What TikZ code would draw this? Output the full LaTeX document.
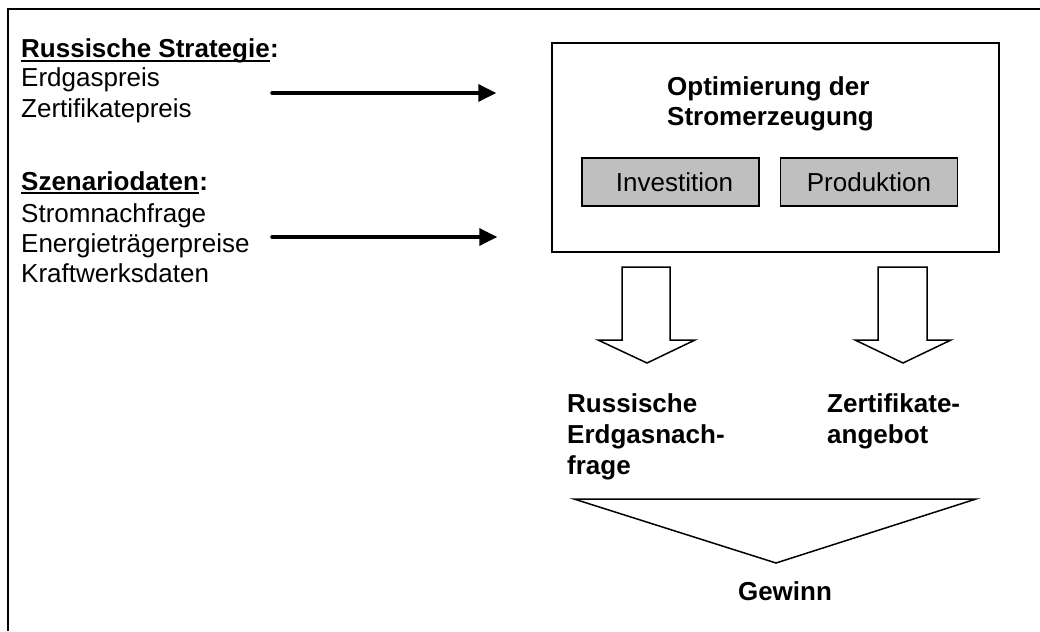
\documentclass[tikz,border=0pt]{standalone}
\usepackage{fontspec}
\setmainfont{Liberation Sans}
\usetikzlibrary{arrows.meta,positioning}

\begin{document}
\begin{tikzpicture}[x=1pt,y=-1pt,
	txt/.style={anchor=base west,inner sep=0pt,font=\fontsize{26}{31}\selectfont},
	bld/.style={txt,font=\fontsize{26}{31}\selectfont\bfseries},
	subbox/.style={draw,line width=1.5pt,fill=black!25,minimum width=177pt,minimum height=48pt,font=\fontsize{26}{31}\selectfont},
	inarrow/.style={-{Triangle[length=18pt,width=17pt]},line width=3.5pt,line cap=round},
	blockarrow/.style={line width=1.5pt,line join=miter}]


\useasboundingbox (0,0) rectangle (1040,631);

% frame (only top and left edge)
\draw[line width=2pt] (1040,9)--(8,9)--(8,631);

% inputs
\node[bld] (strat) at (21,58) {Russische Strategie};
\node[bld,anchor=base west] (stratcolon) at (strat.base east) {:};
\draw[line width=2pt] ([yshift=-3pt]strat.base west)--([yshift=-3pt]strat.base east);
\node[txt] (gas) at (21,87) {Erdgaspreis};
\node[txt] (zert) at (21,118) {Zertifikatepreis};

\node[bld] (szen) at (21,190) {Szenariodaten};
\node[bld,anchor=base west] (szencolon) at (szen.base east) {:};
\draw[line width=2pt] ([yshift=-3pt]szen.base west)--([yshift=-3pt]szen.base east);
\node[txt] (strom) at (21,222) {Stromnachfrage};
\node[txt] (energ) at (21,252) {Energietr\"agerpreise};
\node[txt] (kraft) at (21,282) {Kraftwerksdaten};

% optimisation model
\node[draw,line width=1.5pt,minimum width=447pt,minimum height=209pt] (opt) at (775.5,147.5) {};
\node[bld] (opttitle) at (667,96) {Optimierung der};
\node[bld] (opttitle2) at (667,126) {Stromerzeugung};
\node[subbox] (inv) at (670.5,182) {\hspace{8pt}Investition};
\node[subbox] (prod) at (869,182) {Produktion};

\coordinate (in1) at (272,93);
\coordinate (in2) at (272,237);
\draw[inarrow] (in1)--([xshift=-55pt]in1 -| opt.west);
\draw[inarrow] (in2)--([xshift=-54pt]in2 -| opt.west);

% outputs
\draw[blockarrow] (622,267)--(670,267)--(670,340)--(695,340)--(647,363)--(598,340)--(622,340)--cycle;
\draw[blockarrow] (878,267)--(927,267)--(927,340)--(951,340)--(903,363)--(855,340)--(878,340)--cycle;

\node[bld] (rus1) at (567,412) {Russische};
\node[bld] (rus2) at (567,443) {Erdgasnach-};
\node[bld] (rus3) at (567,474) {frage};
\node[bld] (ang1) at (827,412) {Zertifikate-};
\node[bld] (ang2) at (827,443) {angebot};

\draw[line width=1.5pt] (574,499)--(976,499)--(776,563)--cycle;

\node[bld,anchor=base] (gewinn) at (785,600) {Gewinn};

\end{tikzpicture}
\end{document}
